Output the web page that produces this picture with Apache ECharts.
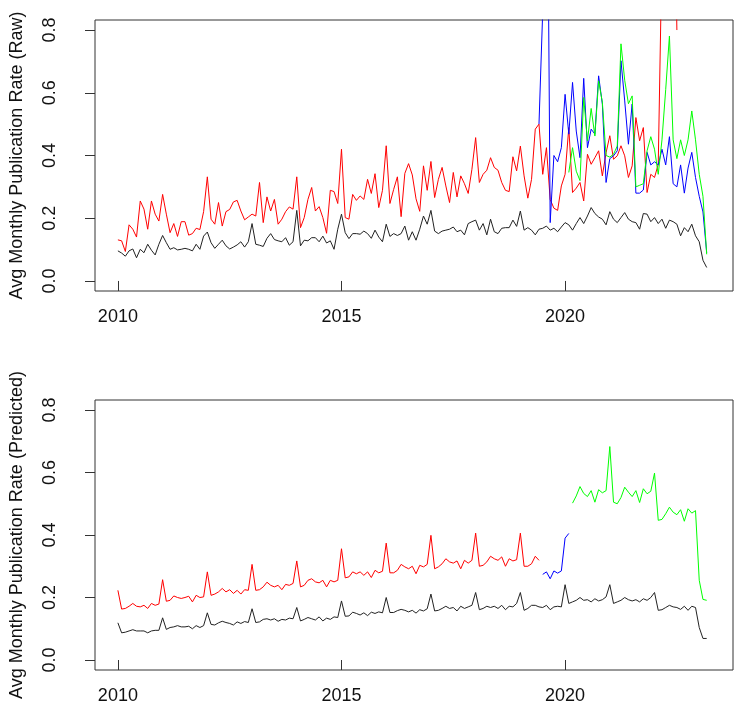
<!DOCTYPE html>
<html>
<head>
<meta charset="utf-8">
<script src="https://cdn.jsdelivr.net/npm/echarts@6/dist/echarts.min.js"></script>
<style>
  html, body { margin: 0; padding: 0; background: #fff; }
  #chart { width: 736px; height: 717px; }
</style>
</head>
<body>
<div id="chart"></div>
<script>
// monthly series, Jan 2010 = index 0
const startYear = 2010
const xTicks = [2010, 2015, 2020]
const yTicks = [0, 0.2, 0.4, 0.6, 0.8]

// raw panel
const rawBlack = [
  0.096, 0.089, 0.079, 0.096, 0.102, 0.074, 0.101, 0.090, 0.117, 0.098, 0.083, 0.117,
  0.145, 0.122, 0.101, 0.106, 0.099, 0.101, 0.104, 0.101, 0.096, 0.117, 0.101, 0.143,
  0.156, 0.122, 0.104, 0.117, 0.130, 0.112, 0.102, 0.108, 0.115, 0.125, 0.108, 0.125,
  0.183, 0.117, 0.114, 0.110, 0.136, 0.151, 0.132, 0.128, 0.125, 0.138, 0.114, 0.125,
  0.225, 0.112, 0.130, 0.128, 0.138, 0.138, 0.125, 0.143, 0.121, 0.128, 0.101, 0.165,
  0.213, 0.154, 0.135, 0.151, 0.151, 0.149, 0.159, 0.151, 0.136, 0.162, 0.140, 0.125,
  0.181, 0.142, 0.151, 0.145, 0.151, 0.175, 0.130, 0.157, 0.130, 0.165, 0.207, 0.181,
  0.225, 0.159, 0.151, 0.159, 0.162, 0.165, 0.172, 0.157, 0.162, 0.147, 0.183, 0.189,
  0.194, 0.162, 0.183, 0.147, 0.197, 0.157, 0.151, 0.168, 0.170, 0.170, 0.194, 0.174,
  0.223, 0.162, 0.170, 0.162, 0.147, 0.165, 0.168, 0.175, 0.162, 0.168, 0.157, 0.172,
  0.186, 0.179, 0.162, 0.183, 0.202, 0.183, 0.207, 0.234, 0.215, 0.204, 0.197, 0.179,
  0.221, 0.197, 0.186, 0.202, 0.218, 0.197, 0.189, 0.186, 0.165, 0.215, 0.213, 0.189,
  0.202, 0.183, 0.197, 0.168, 0.194, 0.189, 0.181, 0.144, 0.170, 0.157, 0.181, 0.144,
  0.125, 0.066, 0.043
]
const rawRed = [
  0.131, 0.128, 0.094, 0.179, 0.165, 0.140, 0.255, 0.229, 0.165, 0.255, 0.213, 0.191,
  0.276, 0.213, 0.154, 0.183, 0.142, 0.189, 0.189, 0.146, 0.151, 0.168, 0.164, 0.221,
  0.332, 0.197, 0.181, 0.250, 0.175, 0.221, 0.228, 0.252, 0.257, 0.223, 0.195, 0.204,
  0.213, 0.207, 0.314, 0.186, 0.268, 0.223, 0.260, 0.181, 0.197, 0.221, 0.236, 0.229,
  0.332, 0.170, 0.202, 0.260, 0.298, 0.223, 0.237, 0.202, 0.152, 0.289, 0.285, 0.247,
  0.420, 0.202, 0.197, 0.276, 0.257, 0.271, 0.260, 0.324, 0.279, 0.342, 0.234, 0.289,
  0.431, 0.247, 0.292, 0.332, 0.205, 0.343, 0.374, 0.338, 0.262, 0.222, 0.367, 0.289,
  0.381, 0.266, 0.324, 0.362, 0.303, 0.250, 0.346, 0.268, 0.335, 0.310, 0.279, 0.356,
  0.457, 0.314, 0.340, 0.353, 0.393, 0.362, 0.353, 0.314, 0.289, 0.285, 0.396, 0.351,
  0.430, 0.335, 0.264, 0.324, 0.484, 0.500, 0.340, 0.425, 0.260, 0.232, 0.225, 0.303,
  0.340, 0.489, 0.282, 0.296, 0.314, 0.255, 0.404, 0.372, 0.393, 0.415, 0.335, 0.409,
  0.463, 0.388, 0.399, 0.431, 0.399, 0.330, 0.367, 0.521, 0.447, 0.489, 0.282, 0.340,
  0.330, 0.372, 1.05, 1.3, 1.2, 1.6, 0.80
]
const rawBlueStart = 113
const rawBlue = [
  0.50, 0.86, 1.8, 0.186, 0.40, 0.38, 0.425, 0.595, 0.468, 0.633, 0.478, 0.393,
  0.646, 0.425, 0.484, 0.468, 0.654, 0.564, 0.314, 0.390, 0.399, 0.415, 0.702, 0.574,
  0.436, 0.564, 0.28, 0.28, 0.29, 0.41, 0.37, 0.38, 0.37, 0.42, 0.37, 0.46,
  0.31, 0.30, 0.37, 0.28, 0.36, 0.41, 0.33, 0.27, 0.22, 0.09
]
const rawGreenStart = 121
const rawGreen = [
  0.346, 0.425, 0.35, 0.32, 0.585, 0.447, 0.55, 0.462, 0.638, 0.57, 0.40,
  0.395, 0.404, 0.43, 0.756, 0.64, 0.565, 0.59, 0.30, 0.305, 0.31, 0.415, 0.46,
  0.42, 0.34, 0.45, 0.61, 0.781, 0.45, 0.39, 0.45, 0.40, 0.45, 0.542, 0.45,
  0.34, 0.27, 0.085
]

// predicted panel
const predBlack = [
  0.119, 0.087, 0.089, 0.093, 0.097, 0.093, 0.093, 0.093, 0.087, 0.093, 0.095, 0.095,
  0.135, 0.098, 0.104, 0.106, 0.110, 0.106, 0.106, 0.108, 0.100, 0.110, 0.104, 0.110,
  0.151, 0.114, 0.112, 0.119, 0.124, 0.120, 0.117, 0.112, 0.122, 0.117, 0.123, 0.120,
  0.164, 0.120, 0.122, 0.130, 0.132, 0.128, 0.132, 0.124, 0.130, 0.128, 0.134, 0.132,
  0.168, 0.125, 0.130, 0.136, 0.132, 0.128, 0.138, 0.125, 0.134, 0.130, 0.138, 0.136,
  0.189, 0.140, 0.141, 0.153, 0.149, 0.144, 0.151, 0.142, 0.153, 0.149, 0.154, 0.151,
  0.200, 0.152, 0.152, 0.158, 0.162, 0.159, 0.154, 0.159, 0.150, 0.161, 0.157, 0.164,
  0.211, 0.157, 0.159, 0.165, 0.172, 0.165, 0.168, 0.157, 0.172, 0.165, 0.170, 0.175,
  0.216, 0.161, 0.165, 0.172, 0.168, 0.172, 0.165, 0.175, 0.161, 0.172, 0.170, 0.181,
  0.216, 0.159, 0.165, 0.175, 0.175, 0.170, 0.168, 0.175, 0.161, 0.170, 0.172, 0.170,
  0.241, 0.181, 0.186, 0.191, 0.200, 0.191, 0.193, 0.186, 0.196, 0.189, 0.193, 0.202,
  0.241, 0.181, 0.186, 0.191, 0.200, 0.193, 0.189, 0.193, 0.186, 0.196, 0.191, 0.200,
  0.216, 0.159, 0.161, 0.168, 0.175, 0.170, 0.168, 0.162, 0.172, 0.159, 0.172, 0.168,
  0.104, 0.069, 0.069
]
const predRed = [
  0.223, 0.163, 0.165, 0.172, 0.181, 0.172, 0.170, 0.175, 0.165, 0.181, 0.175, 0.179,
  0.257, 0.188, 0.191, 0.205, 0.200, 0.197, 0.200, 0.204, 0.186, 0.207, 0.200, 0.202,
  0.282, 0.207, 0.211, 0.218, 0.229, 0.218, 0.225, 0.213, 0.223, 0.211, 0.225, 0.223,
  0.306, 0.223, 0.225, 0.234, 0.249, 0.239, 0.234, 0.239, 0.225, 0.242, 0.239, 0.245,
  0.317, 0.234, 0.239, 0.255, 0.260, 0.250, 0.247, 0.255, 0.234, 0.255, 0.250, 0.255,
  0.356, 0.263, 0.266, 0.282, 0.276, 0.282, 0.271, 0.282, 0.264, 0.287, 0.279, 0.284,
  0.374, 0.279, 0.279, 0.287, 0.306, 0.298, 0.292, 0.300, 0.276, 0.303, 0.298, 0.306,
  0.399, 0.292, 0.298, 0.308, 0.324, 0.314, 0.310, 0.317, 0.292, 0.319, 0.310, 0.319,
  0.406, 0.300, 0.303, 0.314, 0.332, 0.324, 0.319, 0.330, 0.300, 0.324, 0.317, 0.321,
  0.406, 0.300, 0.300, 0.308, 0.332, 0.319
]
const predBlueStart = 114
const predBlue = [0.274, 0.282, 0.260, 0.285, 0.278, 0.285, 0.39, 0.405]
const predGreenStart = 122
const predGreen = [
  0.502, 0.525, 0.555, 0.533, 0.523, 0.542, 0.505, 0.545, 0.535, 0.542,
  0.683, 0.505, 0.50, 0.52, 0.553, 0.537, 0.523, 0.542, 0.504, 0.548, 0.532, 0.54,
  0.598, 0.447, 0.45, 0.468, 0.489, 0.473, 0.465, 0.481, 0.444, 0.484, 0.47, 0.478,
  0.255, 0.194, 0.191
]

const FONT = '"Liberation Sans", Arial, sans-serif'

function toPoints(values, start = 0) {
  return values.map((v, k) => [startYear + (start + k) / 12, v])
}

function xAxisFor(gridIndex) {
  return {
    type: 'value',
    gridIndex,
    min: 2009.488,
    max: 2023.755,
    axisLine: { show: false },
    splitLine: { show: false },
    axisTick: { customValues: xTicks, length: 10, lineStyle: { color: '#333' } },
    axisLabel: {
      customValues: xTicks,
      margin: 17,
      fontSize: 18,
      fontFamily: FONT,
      color: '#111',
      formatter: (v) => String(v),
    },
  }
}

function yAxisFor(gridIndex, name) {
  return {
    type: 'value',
    gridIndex,
    min: -0.032,
    max: 0.832,
    name,
    nameLocation: 'middle',
    nameGap: 69,
    nameTextStyle: { fontSize: 18, fontFamily: FONT, color: '#111' },
    axisLine: { show: false },
    splitLine: { show: false },
    axisTick: { customValues: yTicks, length: 10, lineStyle: { color: '#333' } },
    axisLabel: {
      customValues: yTicks,
      rotate: 90,
      margin: 36,
      fontSize: 18,
      fontFamily: FONT,
      color: '#111',
      formatter: (v) => v.toFixed(1),
    },
  }
}

function line(data, color, axis) {
  return {
    type: 'line',
    data,
    xAxisIndex: axis,
    yAxisIndex: axis,
    showSymbol: false,
    symbol: 'none',
    lineStyle: { color, width: 1 },
    itemStyle: { color },
    clip: true,
    silent: true,
  }
}

const chart = echarts.init(document.getElementById('chart'))
chart.setOption({
  animation: false,
  backgroundColor: '#fff',
  grid: [
    { left: 92, top: 20, width: 641, height: 271, show: true, borderColor: '#333', borderWidth: 1 },
    { left: 92, top: 400, width: 641, height: 270, show: true, borderColor: '#333', borderWidth: 1 },
  ],
  xAxis: [xAxisFor(0), xAxisFor(1)],
  yAxis: [
    yAxisFor(0, 'Avg Monthly Publication Rate (Raw)'),
    yAxisFor(1, 'Avg Monthly Publication Rate (Predicted)'),
  ],
  series: [
    line(toPoints(rawBlack), '#222', 0),
    line(toPoints(rawRed), '#ff0000', 0),
    line(toPoints(rawBlue, rawBlueStart), '#0000ff', 0),
    line(toPoints(rawGreen, rawGreenStart), '#00ff00', 0),
    line(toPoints(predBlack), '#222', 1),
    line(toPoints(predRed), '#ff0000', 1),
    line(toPoints(predBlue, predBlueStart), '#0000ff', 1),
    line(toPoints(predGreen, predGreenStart), '#00ff00', 1),
  ],
})
</script>
</body>
</html>
